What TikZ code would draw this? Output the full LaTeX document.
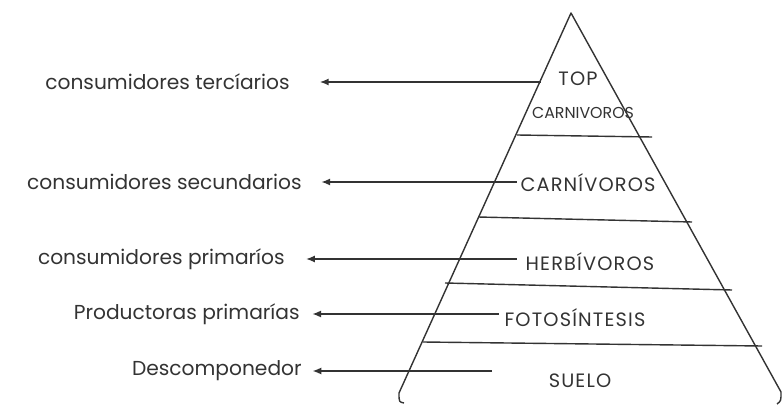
\documentclass[tikz,border=0pt]{standalone}
\usepackage{fontspec}
\setmainfont{Poppins}
\newfontfamily\capsfont[LetterSpace=6]{Poppins}
\usetikzlibrary{arrows.meta, calc}
\definecolor{Ink}{HTML}{333333}
\tikzstyle{edge} = [draw=Ink, line width=0.8pt, line join=round]
\tikzstyle{level} = [inner sep=0pt, text=Ink,
font=\capsfont\fontsize{11}{12}\selectfont]
\tikzstyle{trophic} = [inner sep=0pt, anchor=east, text=Ink,
font=\fontsize{11.5}{13}\selectfont]
\tikzstyle{feed} = [draw=Ink, line width=0.8pt, -{Latex[length=5pt,width=4pt]}]

\begin{document}
\begin{tikzpicture}[x=0.02cm, y=-0.02cm]
   \useasboundingbox (0,0) rectangle (784,405);
   % piramide
   \draw[edge] (404,403) .. controls (399,402) .. (399,393) -- (571,13)
    -- (781,392) .. controls (781,401) .. (777,404);
   \draw[edge] (517,135) -- (652,137);
   \draw[edge] (478,217) -- (692,222);
   \draw[edge] (445,283) -- (732,290);
   \draw[edge] (423,342) -- (762,346);
   % niveles
   \node[level] (top) at (578,79) {TOP};
   \node[level, font=\fontsize{9}{10}\selectfont] (topcarn) at (583,113) {CARNIVOROS};
   \node[level] (carnivoros) at (588,183) {CARNÍVOROS};
   \node[level] (herbivoros) at (590,262) {HERBÍVOROS};
   \node[level] (fotosintesis) at (575,318) {FOTOSÍNTESIS};
   \node[level] (suelo) at (580,381) {SUELO};
   % consumidores
   \node[trophic] (terciarios) at (290,82) {consumidores tercíarios};
   \node[trophic] (secundarios) at (302,182) {consumidores secundarios};
   \node[trophic] (primarios) at (285,259) {consumidores primaríos};
   \node[trophic] (productoras) at (300,314) {Productoras primarías};
   \node[trophic] (descomp) at (302,371) {Descomponedor};
   \draw[feed, shorten <=10pt, shorten >=17pt] (top.west |- terciarios.east) -- (terciarios.east);
   \draw[feed, shorten <=2pt, shorten >=11pt] (carnivoros.west |- secundarios.east) -- (secundarios.east);
   \draw[feed, shorten <=5pt, shorten >=12pt] (herbivoros.west |- primarios.east) -- (primarios.east);
   \draw[feed, shorten <=3pt, shorten >=7pt] (fotosintesis.west |- productoras.east) -- (productoras.east);
   \draw[feed, shorten <=32pt, shorten >=6pt] (suelo.west |- descomp.east) -- (descomp.east);
  \end{tikzpicture}
\end{document}
